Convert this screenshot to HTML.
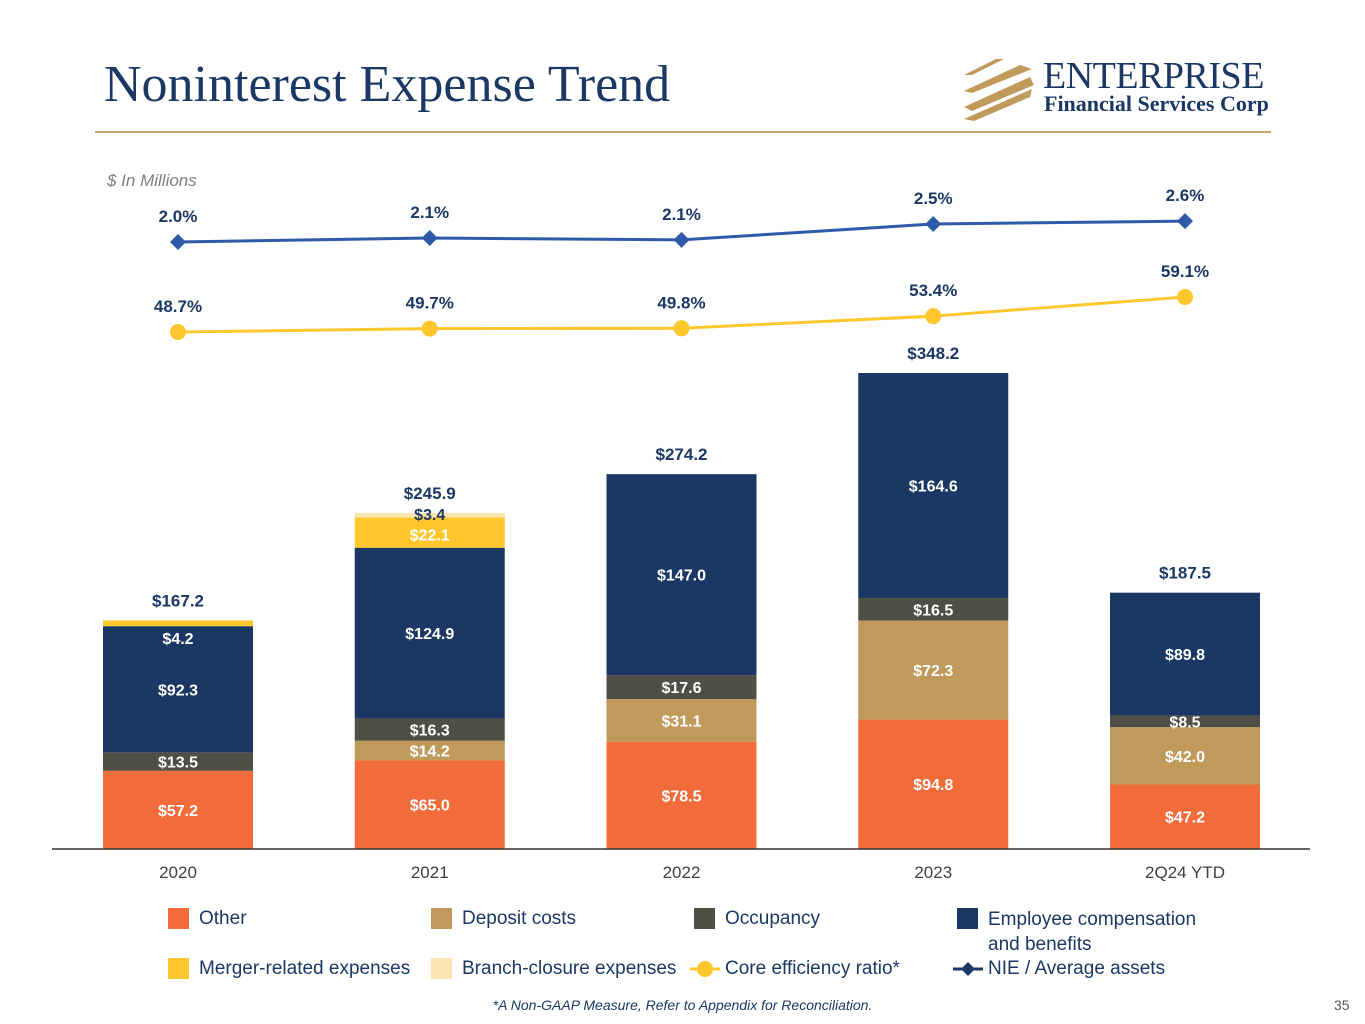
<!DOCTYPE html>
<html><head><meta charset="utf-8">
<style>
html,body{margin:0;padding:0;background:#fff;}
body{width:1365px;height:1024px;position:relative;overflow:hidden;font-family:"Liberation Sans",sans-serif;}
.abs{position:absolute;}
</style></head>
<body>
<div class="abs" style="left:104px;top:55px;font-family:'Liberation Serif',serif;font-size:52px;color:#1B3864;white-space:nowrap;">Noninterest Expense Trend</div>
<div class="abs" style="left:95px;top:131px;width:1176px;height:2px;background:#C9A96E;"></div>
<svg class="abs" style="left:960px;top:55px" width="80" height="66">
<g fill="#C09A5B">
<polygon points="4,20 36,4 44,4 12,20"/>
<polygon points="4,36 60,10 72,14 12,38"/>
<polygon points="4,52 70,22 74,30 12,56"/>
<polygon points="4,64 72,34 70,42 14,66"/>
</g></svg>
<div class="abs" style="left:1043px;top:54px;font-family:'Liberation Serif',serif;font-size:38px;color:#1B3864;letter-spacing:-0.5px;">ENTERPRISE</div>
<div class="abs" style="left:1044px;top:91px;font-family:'Liberation Serif',serif;font-size:22px;font-weight:bold;color:#1B3864;">Financial Services Corp</div>
<div class="abs" style="left:107px;top:171px;font-size:17px;font-style:italic;color:#7f7f7f;">$ In Millions</div>

<svg id="chart" class="abs" style="left:0;top:0" width="1365" height="900"></svg>

<div class="abs" style="left:0;top:0;width:1365px;height:1024px;font-size:19px;color:#1B3864;">
<div class="abs" style="left:168px;top:908px;"><span class="abs" style="left:0;top:0;width:21px;height:21px;background:#F26C3B"></span><span class="abs" style="left:31px;top:0;white-space:nowrap">Other</span></div>
<div class="abs" style="left:431px;top:908px;"><span class="abs" style="left:0;top:0;width:21px;height:21px;background:#C09A5B"></span><span class="abs" style="left:31px;top:0;white-space:nowrap">Deposit costs</span></div>
<div class="abs" style="left:694px;top:908px;"><span class="abs" style="left:0;top:0;width:21px;height:21px;background:#4F4F45"></span><span class="abs" style="left:31px;top:0;white-space:nowrap">Occupancy</span></div>
<div class="abs" style="left:957px;top:908px;"><span class="abs" style="left:0;top:0;width:21px;height:21px;background:#1B3864"></span><span class="abs" style="left:31px;top:0;white-space:nowrap;line-height:25px;margin-top:-1px">Employee compensation<br>and benefits</span></div>
<div class="abs" style="left:168px;top:958px;"><span class="abs" style="left:0;top:0;width:21px;height:21px;background:#FFC72C"></span><span class="abs" style="left:31px;top:0;white-space:nowrap">Merger-related expenses</span></div>
<div class="abs" style="left:431px;top:958px;"><span class="abs" style="left:0;top:0;width:21px;height:21px;background:#FCE5B4"></span><span class="abs" style="left:31px;top:0;white-space:nowrap">Branch-closure expenses</span></div>
<div class="abs" style="left:690px;top:958px;"><svg class="abs" style="left:0;top:0" width="30" height="22"><line x1="0" y1="11" x2="30" y2="11" stroke="#FFC72C" stroke-width="3"/><circle cx="15" cy="11" r="8" fill="#FFC72C"/></svg><span class="abs" style="left:35px;top:0;white-space:nowrap">Core efficiency ratio*</span></div>
<div class="abs" style="left:953px;top:958px;"><svg class="abs" style="left:0;top:0" width="30" height="22"><line x1="0" y1="11" x2="30" y2="11" stroke="#1B3864" stroke-width="3"/><polygon points="15,4 22,11 15,18 8,11" fill="#1B3864"/></svg><span class="abs" style="left:35px;top:0;white-space:nowrap">NIE / Average assets</span></div>
</div>
<div class="abs" style="left:0;width:1365px;top:997px;text-align:center;font-size:14px;font-style:italic;color:#1B3864;">*A Non-GAAP Measure, Refer to Appendix for Reconciliation.</div>
<div class="abs" style="left:1334px;top:997px;font-size:14px;color:#555;">35</div>

<script>
const categories = ["2020","2021","2022","2023","2Q24 YTD"];
const other = [57.2,65.0,78.5,94.8,47.2];
const deposit = [0,14.2,31.1,72.3,42.0];
const occupancy = [13.5,16.3,17.6,16.5,8.5];
const employee = [92.3,124.9,147.0,164.6,89.8];
const merger = [4.2,22.1,0,0,0];
const branch = [0,3.4,0,0,0];
const totals = [167.2,245.9,274.2,348.2,187.5];
const efficiency = [48.7,49.7,49.8,53.4,59.1];
const nie = [2.0,2.11,2.06,2.5,2.58];

const svg = document.getElementById('chart');
const NS = 'http://www.w3.org/2000/svg';
const baseY = 849, pxPerUnit = 1.367;
const x = i => 178 + i*251.75;
const y = v => baseY - v*pxPerUnit;
const yNie = v => 242 - (v-2.0)*36;
const yEff = v => 332 - (v-48.7)*3.365;
const barW = 150;
function mk(tag, attrs, text){const e=document.createElementNS(NS,tag);for(const k in attrs)e.setAttribute(k,attrs[k]);if(text!=null)e.textContent=text;svg.appendChild(e);return e;}
const series = [
 {name:'other',vals:other,color:'#F26C3B'},
 {name:'deposit',vals:deposit,color:'#C09A5B'},
 {name:'occupancy',vals:occupancy,color:'#4F4F45'},
 {name:'employee',vals:employee,color:'#1B3864'},
 {name:'merger',vals:merger,color:'#FFC72C'},
 {name:'branch',vals:branch,color:'#FCE5B4'}
];
categories.forEach((c,i)=>{
  let cum=0;
  series.forEach(s=>{
    const v=s.vals[i]; if(!v) return;
    const y0=y(cum), y1=y(cum+v);
    const r=mk('rect',{x:x(i)-barW/2,y:y1,width:barW,height:y0-y1,fill:s.color});
    
    
    let ly=(y0+y1)/2+6, fill='#fff';
    if(s.name==='branch'){ly=y1+7;fill='#1B3864';}
    else if(s.name==='merger' && y0-y1<12){ly=y0+18;}
    else if(s.name==='merger' && branch[i]){ly=(y0+y1)/2+8;}
    const t=mk('text',{x:x(i),y:ly,'text-anchor':'middle','font-size':16,'font-weight':'bold',fill:fill},'$'+v.toFixed(1));
    
    
    cum+=v;
  });
  const tt=mk('text',{x:x(i),y:y(totals[i])-14,'text-anchor':'middle','font-size':17,'font-weight':'bold',fill:'#1B3864'},'$'+totals[i].toFixed(1));
  
  
  const xl=mk('text',{x:x(i),y:878,'text-anchor':'middle','font-size':17,fill:'#404040'},c);
  
  
});
const ax=mk('line',{x1:52,x2:1310,y1:baseY,y2:baseY,stroke:'#333','stroke-width':1.5});


const nl=mk('polyline',{points:nie.map((v,i)=>x(i)+','+yNie(v)).join(' '),fill:'none',stroke:'#2E5AA7','stroke-width':3});


const el=mk('polyline',{points:efficiency.map((v,i)=>x(i)+','+yEff(v)).join(' '),fill:'none',stroke:'#FFC72C','stroke-width':3});


nie.forEach((v,i)=>{
  const cy=yNie(v),cx=x(i);
  const p=mk('polygon',{points:`${cx},${cy-8} ${cx+8},${cy} ${cx},${cy+8} ${cx-8},${cy}`,fill:'#2E5AA7'});
  
  
  const t=mk('text',{x:cx,y:cy-20,'text-anchor':'middle','font-size':17,'font-weight':'bold',fill:'#1B3864'},v.toFixed(1)+'%');
  
  
});
efficiency.forEach((v,i)=>{
  const cy=yEff(v),cx=x(i);
  const p=mk('circle',{cx:cx,cy:cy,r:8,fill:'#FFC72C'});
  
  
  const t=mk('text',{x:cx,y:cy-20,'text-anchor':'middle','font-size':17,'font-weight':'bold',fill:'#1B3864'},v.toFixed(1)+'%');
  
  
});
</script>
</body></html>
